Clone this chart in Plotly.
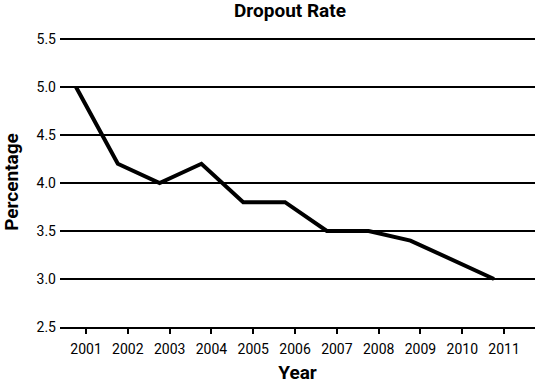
import plotly.graph_objects as go

years = [2001, 2002, 2003, 2004, 2005, 2006, 2007, 2008, 2009, 2010, 2011]
rates = [5.0, 4.2, 4.0, 4.2, 3.8, 3.8, 3.5, 3.5, 3.4, 3.2, 3.0]
tick_labels = [str(y) for y in years]
y_ticks = [2.5, 3.0, 3.5, 4.0, 4.5, 5.0, 5.5]
y_tick_labels = ["%.1f" % v for v in y_ticks]

FONT = "Roboto, Liberation Sans Narrow, DejaVu Sans Condensed, sans-serif"

fig = go.Figure()
fig.add_trace(go.Scatter(
    x=years, y=rates, mode="lines",
    line=dict(color="black", width=4),
    showlegend=False, hoverinfo="skip", cliponaxis=False,
))

fig.update_layout(
    width=535, height=384,
    margin=dict(l=60, r=0, t=37, b=57),
    paper_bgcolor="white", plot_bgcolor="white",
    font=dict(family=FONT, color="black", size=14),
    title=dict(text="<b>Dropout Rate</b>", x=0.542, xanchor="center",
               y=1 - 10 / 384, yanchor="middle", font=dict(size=19, family=FONT)),
)
fig.update_xaxes(
    range=[2000.617, 2011.98],
    tickvals=[y + 0.24 for y in years], ticktext=tick_labels,
    ticks="outside", ticklen=5, tickwidth=2, tickcolor="black",
    showline=True, linecolor="black", linewidth=2, ticklabelstandoff=3,
    showgrid=False, zeroline=False, automargin=False,
    tickfont=dict(size=14, family=FONT),
    title=dict(text="<b>Year</b>", font=dict(size=19, family=FONT), standoff=12),
)
fig.update_yaxes(
    range=[2.5, 5.52],
    tickvals=y_ticks, ticktext=y_tick_labels,
    ticks="", showline=False, ticklabelstandoff=3,
    showgrid=True, gridcolor="black", gridwidth=2,
    zeroline=False, automargin=False,
    tickfont=dict(size=14, family=FONT),
    title=dict(text="<b>Percentage</b>", font=dict(size=19, family=FONT), standoff=14),
)

fig.write_html("out.html", config={"displayModeBar": False},
               post_script="document.body.style.margin='0';")
